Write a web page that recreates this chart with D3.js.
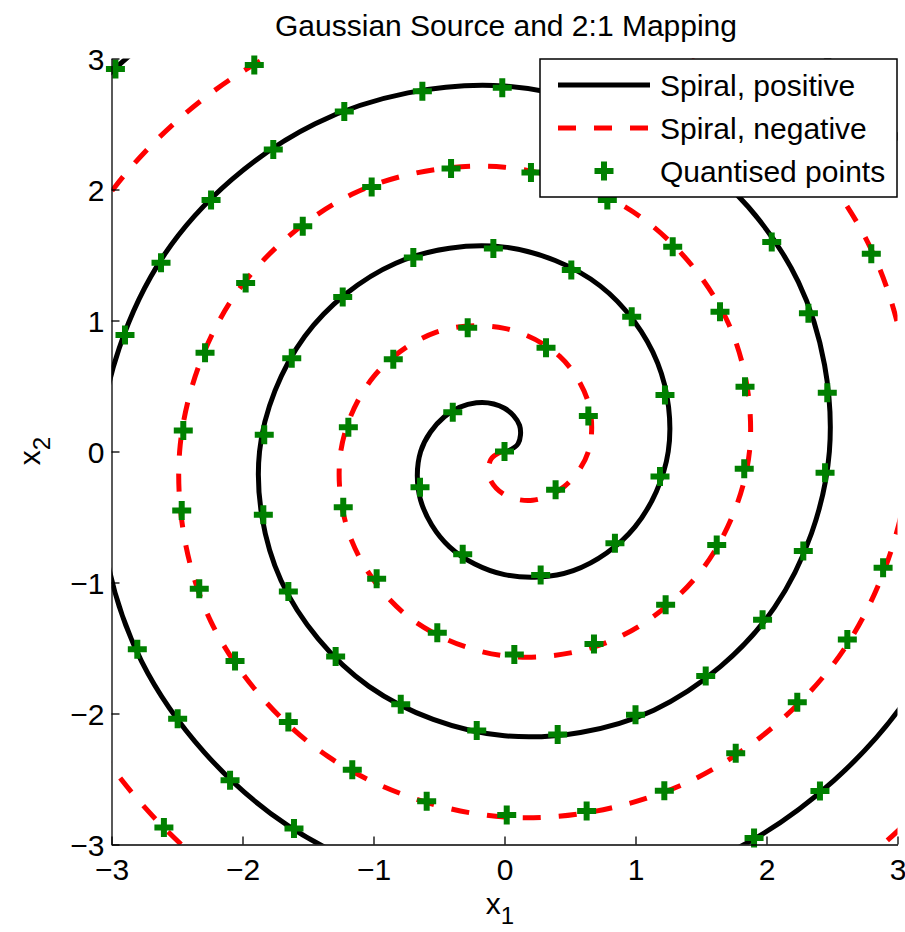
<!DOCTYPE html>
<html>
<head>
<meta charset="utf-8">
<script src="https://cdn.jsdelivr.net/npm/d3@7"></script>
<style>
  html, body { margin: 0; padding: 0; background: #fff; }
  svg { display: block; font-family: "Liberation Sans", Arial, Helvetica, sans-serif; }
</style>
</head>
<body>
<svg id="chart" width="905" height="932"></svg>
<script>
// Spiral samples in polar form (angle in degrees, radius in data units)
const spiralAngleDeg = [0, 30, 60, 90, 120, 150, 180, 210, 240, 270, 300, 330,
  360, 390, 420, 450, 480, 510, 540, 570, 600, 630, 660, 690,
  720, 750, 780, 810, 840, 870, 900, 930, 960, 990, 1020, 1050,
  1080, 1110, 1140, 1170, 1200, 1230, 1260];
const spiralRadius = [0.02, 0.12, 0.23, 0.33, 0.43, 0.53, 0.64, 0.74, 0.84, 0.94, 1.05, 1.15,
  1.25, 1.35, 1.46, 1.56, 1.66, 1.76, 1.87, 1.97, 2.07, 2.17, 2.28, 2.38,
  2.48, 2.59, 2.69, 2.79, 2.89, 3.00, 3.10, 3.20, 3.30, 3.41, 3.51, 3.61,
  3.71, 3.82, 3.92, 4.02, 4.12, 4.23, 4.33];

// Quantised points (x1, x2)
const quantX1 = [
  0.0, -0.395, -0.645, -0.319, 0.276, 0.843, 1.187, 1.225, 0.971, 0.51,
  -0.085, -0.696, -1.235, -1.624, -1.834, -1.841, -1.65, -1.289, -0.792, -0.212,
  0.406, 1.0, 1.536, 1.97, 2.281, 2.447, 2.464, 2.32, 2.04, -0.017,
  -0.627, -1.223, -1.765, -2.24, -2.622, -2.897, -2.803, -2.495, -2.095, -1.607,
  1.905, 2.408, -2.97,
  0.39, 0.64, 0.317, -0.281, -0.849, -1.192, -1.231, -0.976, -0.513, 0.075,
  0.683, 1.23, 1.62, 1.83, 1.836, 1.645, 1.284, 0.785, 0.202, -0.408,
  -1.014, -1.54, -1.976, -2.286, -2.452, -2.464, -2.33, -2.057, -1.65, -1.162,
  -0.594, 0.017, 0.627, 1.22, 1.765, 2.235, 2.617, 2.89, 2.80, -1.91,
  -2.60
];
const quantX2 = [
  0.0, 0.299, -0.272, -0.785, -0.943, -0.70, -0.191, 0.431, 1.029, 1.385,
  1.55, 1.48, 1.18, 0.711, 0.127, -0.483, -1.069, -1.565, -1.93, -2.13,
  -2.16, -2.01, -1.714, -1.285, -0.76, -0.163, 0.448, 1.055, 1.60, 2.776,
  2.75, 2.595, 2.305, 1.92, 1.44, 0.889, -1.51, -2.04, -2.51, -2.878,
  -2.95, -2.592, 2.92,
  -0.292, 0.271, 0.792, 0.945, 0.704, 0.186, -0.425, -0.972, -1.383, -1.55,
  -1.47, -1.17, -0.713, -0.132, 0.494, 1.067, 1.563, 1.92, 2.13, 2.16,
  2.02, 1.72, 1.286, 0.753, 0.160, -0.451, -1.048, -1.60, -2.065, -2.43,
  -2.67, -2.775, -2.745, -2.59, -2.304, -1.915, -1.435, -0.887, 1.51, 2.95,
  -2.87
];

const axisTicks = [-3, -2, -1, 0, 1, 2, 3];
const legendLabels = ["Spiral, positive", "Spiral, negative", "Quantised points"];
const titleText = "Gaussian Source and 2:1 Mapping";

const svg = d3.select("#chart");
const plotLeft = 111.5, plotRight = 897.5, plotTop = 58.5, plotBottom = 844.5;

const x = d3.scaleLinear().domain([-3, 3]).range([plotLeft, plotRight]);
const y = d3.scaleLinear().domain([-3, 3]).range([plotBottom, plotTop]);

svg.append("defs").append("clipPath").attr("id", "plotClip")
  .append("rect").attr("x", plotLeft).attr("y", plotTop)
  .attr("width", plotRight - plotLeft).attr("height", plotBottom - plotTop);

// Build both arms: the negative arm is the point reflection of the positive one
const positivePts = spiralAngleDeg.map((a, i) => {
  const t = a * Math.PI / 180;
  return [spiralRadius[i] * Math.cos(t), spiralRadius[i] * Math.sin(t)];
});
const negativePts = positivePts.map(p => [-p[0], -p[1]]);

const line = d3.line()
  .x(d => x(d[0]))
  .y(d => y(d[1]))
  .curve(d3.curveCatmullRom.alpha(0.5));

const plot = svg.append("g").attr("clip-path", "url(#plotClip)");

plot.append("path").datum(negativePts)
  .attr("d", line)
  .attr("fill", "none")
  .attr("stroke", "#ff0000")
  .attr("stroke-width", 5)
  .attr("stroke-dasharray", "18,18");

plot.append("path").datum(positivePts)
  .attr("d", line)
  .attr("fill", "none")
  .attr("stroke", "#000000")
  .attr("stroke-width", 5);

// Plus markers
const plusPath = "M-9.5,0H9.5M0,-9.5V9.5";
const quant = quantX1.map((v, i) => [v, quantX2[i]]);
svg.append("g").selectAll("path.q").data(quant).join("path")
  .attr("class", "q")
  .attr("d", plusPath)
  .attr("transform", d => `translate(${x(d[0])},${y(d[1])})`)
  .attr("fill", "none")
  .attr("stroke", "#008000")
  .attr("stroke-width", 6);

// Axes (left and bottom, ticks pointing inward)
const fontSize = 30;
const fmt = d3.format("d");
const xAxis = d3.axisBottom(x).tickValues(axisTicks).tickFormat(fmt)
  .tickSizeInner(-8).tickSizeOuter(0).tickPadding(14);
const yAxis = d3.axisLeft(y).tickValues(axisTicks).tickFormat(fmt)
  .tickSizeInner(-8).tickSizeOuter(0).tickPadding(7);

const gx = svg.append("g").attr("transform", `translate(0,${plotBottom})`).call(xAxis);
const gy = svg.append("g").attr("transform", `translate(${plotLeft},0)`).call(yAxis);
[gx, gy].forEach(g => {
  g.select(".domain").attr("stroke", "#000").attr("stroke-width", 1.3);
  g.selectAll(".tick line").attr("stroke", "#000").attr("stroke-width", 1.3);
  g.selectAll(".tick text").attr("fill", "#000").attr("font-size", fontSize)
    .attr("font-family", "Liberation Sans, Arial, sans-serif");
});
gy.selectAll(".tick text").attr("dy", "0.36em");

// Axis labels
const xl = svg.append("text").attr("x", 500).attr("y", 914)
  .attr("text-anchor", "middle").attr("font-size", fontSize).attr("fill", "#000");
xl.append("tspan").text("x");
xl.append("tspan").text("1").attr("font-size", fontSize * 0.8).attr("dy", 10);

const yl = svg.append("text")
  .attr("transform", `translate(40,451) rotate(-90)`)
  .attr("text-anchor", "middle").attr("font-size", fontSize).attr("fill", "#000");
yl.append("tspan").text("x");
yl.append("tspan").text("2").attr("font-size", fontSize * 0.8).attr("dy", 10);

// Title
svg.append("text").attr("x", 506).attr("y", 36)
  .attr("text-anchor", "middle").attr("font-size", fontSize).attr("fill", "#000")
  .text(titleText);

// Legend
const lg = svg.append("g");
lg.append("rect").attr("x", 540).attr("y", 59).attr("width", 357).attr("height", 138)
  .attr("fill", "#fff").attr("stroke", "#000").attr("stroke-width", 1.5);
const rowY = [85, 128, 171];
lg.append("line").attr("x1", 558).attr("x2", 650).attr("y1", rowY[0]).attr("y2", rowY[0])
  .attr("stroke", "#000").attr("stroke-width", 5);
lg.append("line").attr("x1", 558).attr("x2", 650).attr("y1", rowY[1]).attr("y2", rowY[1])
  .attr("stroke", "#ff0000").attr("stroke-width", 5).attr("stroke-dasharray", "18,18");
lg.append("path").attr("d", plusPath).attr("transform", `translate(604,${rowY[2]})`)
  .attr("fill", "none").attr("stroke", "#008000").attr("stroke-width", 6);
lg.selectAll("text.lab").data(legendLabels).join("text")
  .attr("class", "lab")
  .attr("x", 660).attr("y", (d, i) => rowY[i] + fontSize * 0.36)
  .attr("font-size", fontSize).attr("fill", "#000")
  .text(d => d);
</script>
</body>
</html>
